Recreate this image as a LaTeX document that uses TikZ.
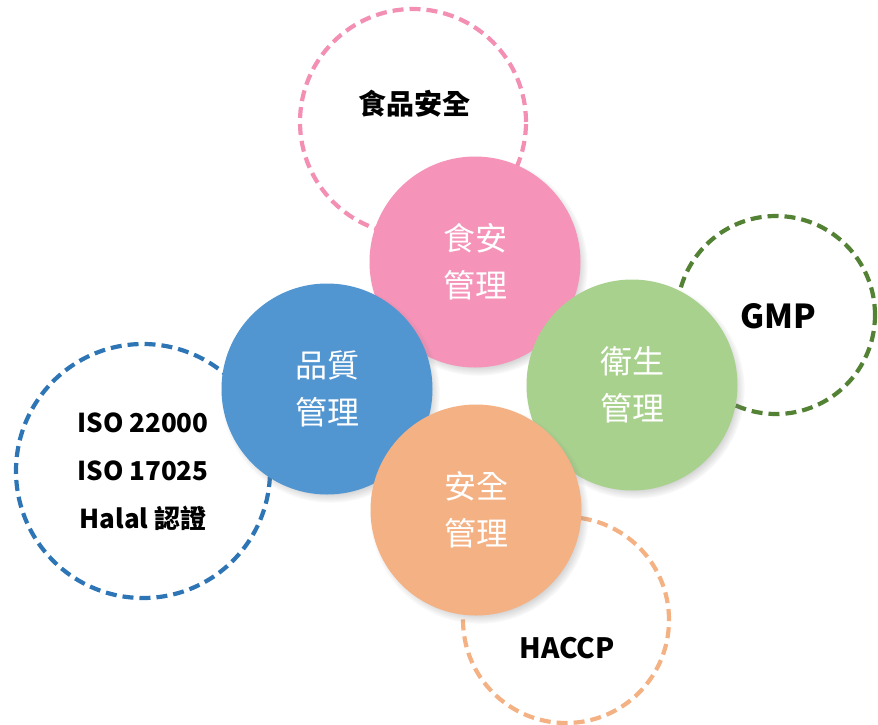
\documentclass[tikz,border=0pt]{standalone}
\usepackage{fontspec}
\setmainfont{Noto Sans CJK TC}
\usetikzlibrary{shadows}
\definecolor{pinkfill}{HTML}{F593B9}
\definecolor{bluefill}{HTML}{5195D1}
\definecolor{greenfill}{HTML}{A9D18E}
\definecolor{orangefill}{HTML}{F4B183}
\definecolor{pinkline}{HTML}{F48FB4}
\definecolor{blueline}{HTML}{2E75B6}
\definecolor{greenline}{HTML}{548235}
\definecolor{orangeline}{HTML}{F4B183}

\begin{document}
\begin{tikzpicture}[x=1pt,y=-1pt,
  ball/.style={circle, minimum size=211pt, inner sep=0pt, text=white, align=center,
    font=\fontsize{32}{47}\selectfont,
    circular drop shadow={shadow xshift=3pt, shadow yshift=-4pt, shadow scale=1.04, opacity=0.55}},
  ring/.style={circle, draw, line width=4.2pt, dash pattern=on 11pt off 6pt, inner sep=0pt},
  tag/.style={align=center, inner sep=0pt, font=\bfseries\fontsize{26}{48}\selectfont}]

\useasboundingbox (0,0) rectangle (878,724);

\node[ring, draw=pinkline, minimum size=226pt] (foodring) at (413,122) {};
\node[ring, draw=greenline, minimum size=198pt] (gmpring) at (776,315) {};
\node[ring, draw=blueline, minimum size=254pt] (isoring) at (143,471) {};
\node[ring, draw=orangeline, minimum size=206pt] (haccpring) at (566,620) {};

\node[tag, font=\bfseries\fontsize{28}{34}\selectfont] (foodtext) at (414,104) {食品安全};
\node[tag, font=\bfseries\fontsize{33}{40}\selectfont] (gmptext) at (778,316) {GMP};
\node[tag] (isotext) at (143,472) {ISO 22000\\ISO 17025\\Halal 認證};
\node[tag, font=\bfseries\fontsize{28}{34}\selectfont] (haccptext) at (567,648) {HACCP};

\node[ball, fill=pinkfill] (foodball) at (475,262) {食安\\管理};
\node[ball, fill=bluefill] (qualball) at (327,389) {品質\\管理};
\node[ball, fill=greenfill] (hygball) at (632,385) {衛生\\管理};
\node[ball, fill=orangefill] (safeball) at (476,510) {安全\\管理};
\end{tikzpicture}
\end{document}
